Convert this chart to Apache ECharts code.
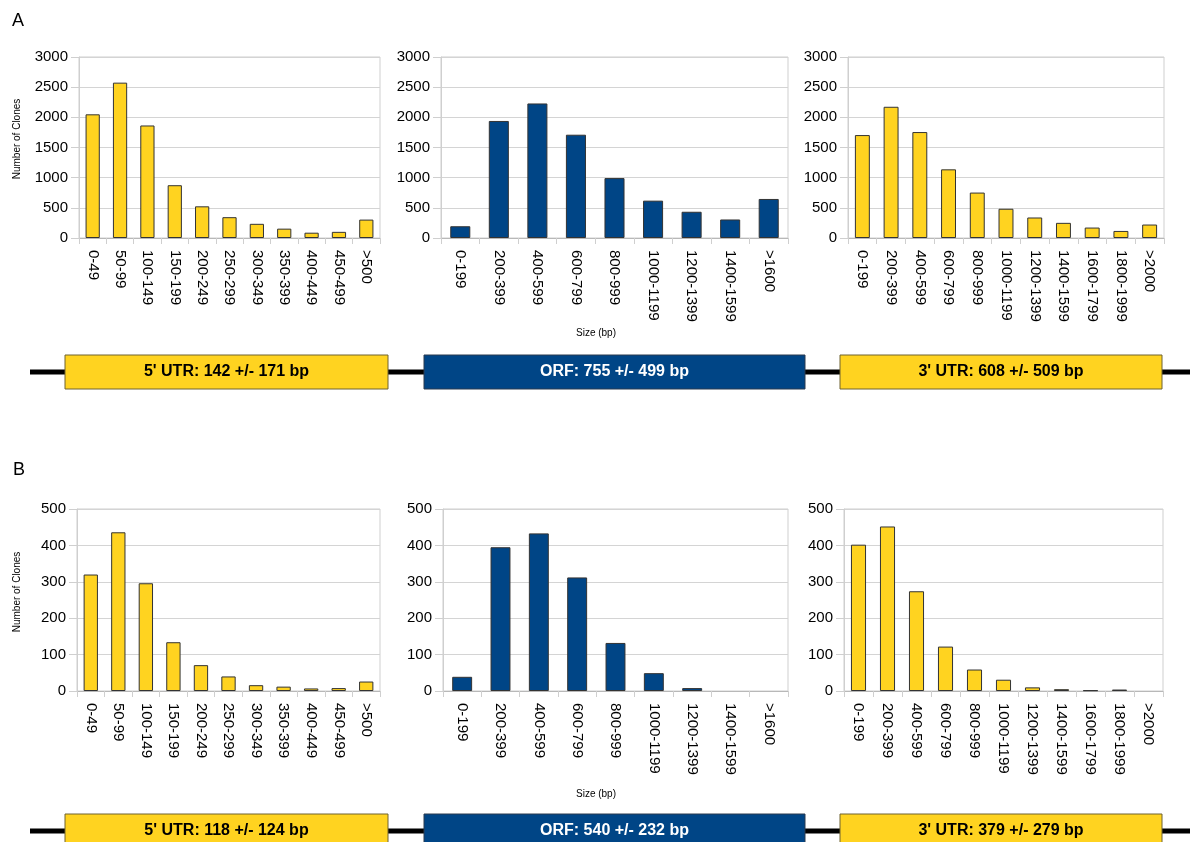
<!DOCTYPE html>
<html>
<head>
<meta charset="utf-8">
<script src="https://cdn.jsdelivr.net/npm/echarts@6/dist/echarts.min.js"></script>
<style>
html,body{margin:0;padding:0;background:#fff;}
#chart{width:1190px;height:842px;}
</style>
</head>
<body>
<div id="chart"></div>
<script>
// ---- data ----
var utr5Cats = ['0-49','50-99','100-149','150-199','200-249','250-299','300-349','350-399','400-449','450-499','>500'];
var orfCats = ['0-199','200-399','400-599','600-799','800-999','1000-1199','1200-1399','1400-1599','>1600'];
var utr3Cats = ['0-199','200-399','400-599','600-799','800-999','1000-1199','1200-1399','1400-1599','1600-1799','1800-1999','>2000'];

var utr5A = [2050, 2575, 1865, 875, 525, 345, 235, 155, 88, 102, 305];
var orfA  = [195, 1940, 2230, 1712, 993, 619, 435, 307, 647];
var utr3A = [1706, 2175, 1756, 1138, 753, 485, 340, 251, 173, 117, 223];

var utr5B = [320, 436, 296, 134, 71, 40, 16, 12, 7, 8, 26];
var orfB  = [39, 395, 433, 312, 132, 49, 8, 0, 0];
var utr3B = [402, 452, 274, 122, 59, 31, 10, 5, 2, 4, 0];

var yTicksA = {min: 0, max: 3000, interval: 500};
var yTicksB = {min: 0, max: 500, interval: 100};

var regionLabelsA = ["5' UTR: 142 +/- 171 bp", "ORF: 755 +/- 499 bp", "3' UTR: 608 +/- 509 bp"];
var regionLabelsB = ["5' UTR: 118 +/- 124 bp", "ORF: 540 +/- 232 bp", "3' UTR: 379 +/- 279 bp"];

var panelLetters = ['A', 'B'];
var yAxisTitle = 'Number of Clones';
var xAxisTitle = 'Size (bp)';

// ---- styles ----
var YELLOW = '#FFD320';
var BLUE = '#004586';
var FONT = '"Liberation Sans", Arial, sans-serif';

var panels = [
  {cats: utr5Cats, data: utr5A, color: YELLOW, ticks: yTicksA, grid: {left: 79, top: 57, width: 301, height: 181}},
  {cats: orfCats,  data: orfA,  color: BLUE,   ticks: yTicksA, grid: {left: 441, top: 57, width: 347, height: 181}},
  {cats: utr3Cats, data: utr3A, color: YELLOW, ticks: yTicksA, grid: {left: 848, top: 57, width: 316, height: 181}},
  {cats: utr5Cats, data: utr5B, color: YELLOW, ticks: yTicksB, grid: {left: 77, top: 509, width: 303, height: 182}},
  {cats: orfCats,  data: orfB,  color: BLUE,   ticks: yTicksB, grid: {left: 443, top: 509, width: 345, height: 182}},
  {cats: utr3Cats, data: utr3B, color: YELLOW, ticks: yTicksB, grid: {left: 844, top: 509, width: 319, height: 182}}
];

var grids = [], xAxes = [], yAxes = [], series = [];
panels.forEach(function (p, i) {
  grids.push({left: p.grid.left, top: p.grid.top, width: p.grid.width, height: p.grid.height,
    show: true, borderColor: '#cfcfcf', borderWidth: 1, containLabel: false});
  xAxes.push({
    type: 'category', gridIndex: i, data: p.cats,
    axisLine: {show: true, lineStyle: {color: '#b8b8b8', width: 1}},
    axisTick: {show: true, length: 6, lineStyle: {color: '#cfcfcf'}},
    axisLabel: {rotate: -90, interval: 0, margin: 12, color: '#000', fontSize: 15, fontFamily: FONT},
    splitLine: {show: false}
  });
  yAxes.push({
    type: 'value', gridIndex: i, min: p.ticks.min, max: p.ticks.max, interval: p.ticks.interval,
    axisLine: {show: true, lineStyle: {color: '#cfcfcf'}},
    axisTick: {show: true, length: 8, lineStyle: {color: '#cfcfcf'}},
    axisLabel: {margin: 11, color: '#000', fontSize: 15, fontFamily: FONT,
      formatter: function (v) { return String(v); }},
    splitLine: {show: true, lineStyle: {color: '#d4d4d4', width: 1}}
  });
  series.push({
    type: 'bar', xAxisIndex: i, yAxisIndex: i, barWidth: '52%',
    data: p.data.map(function (v) {
      return {value: v, itemStyle: {borderWidth: v === 0 ? 0 : 1}};
    }),
    itemStyle: {color: p.color, borderColor: '#333', borderWidth: 1},
    emphasis: {disabled: true},
    animation: false
  });
});

// gene diagram graphics
function geneRow(y, labels) {
  var h = 34;
  var boxes = [
    {x: 65, w: 323, fill: YELLOW, stroke: '#6e6230', text: '#000'},
    {x: 424, w: 381, fill: BLUE, stroke: '#2a3a4e', text: '#fff'},
    {x: 840, w: 322, fill: YELLOW, stroke: '#6e6230', text: '#000'}
  ];
  var els = [{
    type: 'line', shape: {x1: 30, y1: y + h / 2, x2: 1190, y2: y + h / 2},
    style: {stroke: '#000', lineWidth: 5}, z: 10
  }];
  boxes.forEach(function (b, k) {
    els.push({type: 'rect', shape: {x: b.x, y: y, width: b.w, height: h},
      style: {fill: b.fill, stroke: b.stroke, lineWidth: 1}, z: 11});
    els.push({type: 'text', x: b.x + b.w / 2, y: y + h / 2,
      style: {text: labels[k], fill: b.text, font: 'bold 16px ' + FONT, align: 'center', verticalAlign: 'middle'}, z: 12});
  });
  return els;
}

var graphics = [
  {type: 'text', x: 12, y: 12, style: {text: panelLetters[0], fill: '#000', font: '18px ' + FONT}},
  {type: 'text', x: 13, y: 461, style: {text: panelLetters[1], fill: '#000', font: '18px ' + FONT}},
  {type: 'text', x: 17, y: 139, rotation: Math.PI / 2,
    style: {text: yAxisTitle, fill: '#000', font: '10px ' + FONT, align: 'center', verticalAlign: 'middle'}},
  {type: 'text', x: 17, y: 592, rotation: Math.PI / 2,
    style: {text: yAxisTitle, fill: '#000', font: '10px ' + FONT, align: 'center', verticalAlign: 'middle'}},
  {type: 'text', x: 596, y: 333,
    style: {text: xAxisTitle, fill: '#000', font: '10px ' + FONT, align: 'center', verticalAlign: 'middle'}},
  {type: 'text', x: 596, y: 794,
    style: {text: xAxisTitle, fill: '#000', font: '10px ' + FONT, align: 'center', verticalAlign: 'middle'}}
].concat(geneRow(355, regionLabelsA)).concat(geneRow(814, regionLabelsB));

var chart = echarts.init(document.getElementById('chart'), null, {renderer: 'canvas'});
chart.setOption({
  backgroundColor: '#fff',
  animation: false,
  grid: grids,
  xAxis: xAxes,
  yAxis: yAxes,
  series: series,
  graphic: graphics
});
</script>
</body>
</html>
